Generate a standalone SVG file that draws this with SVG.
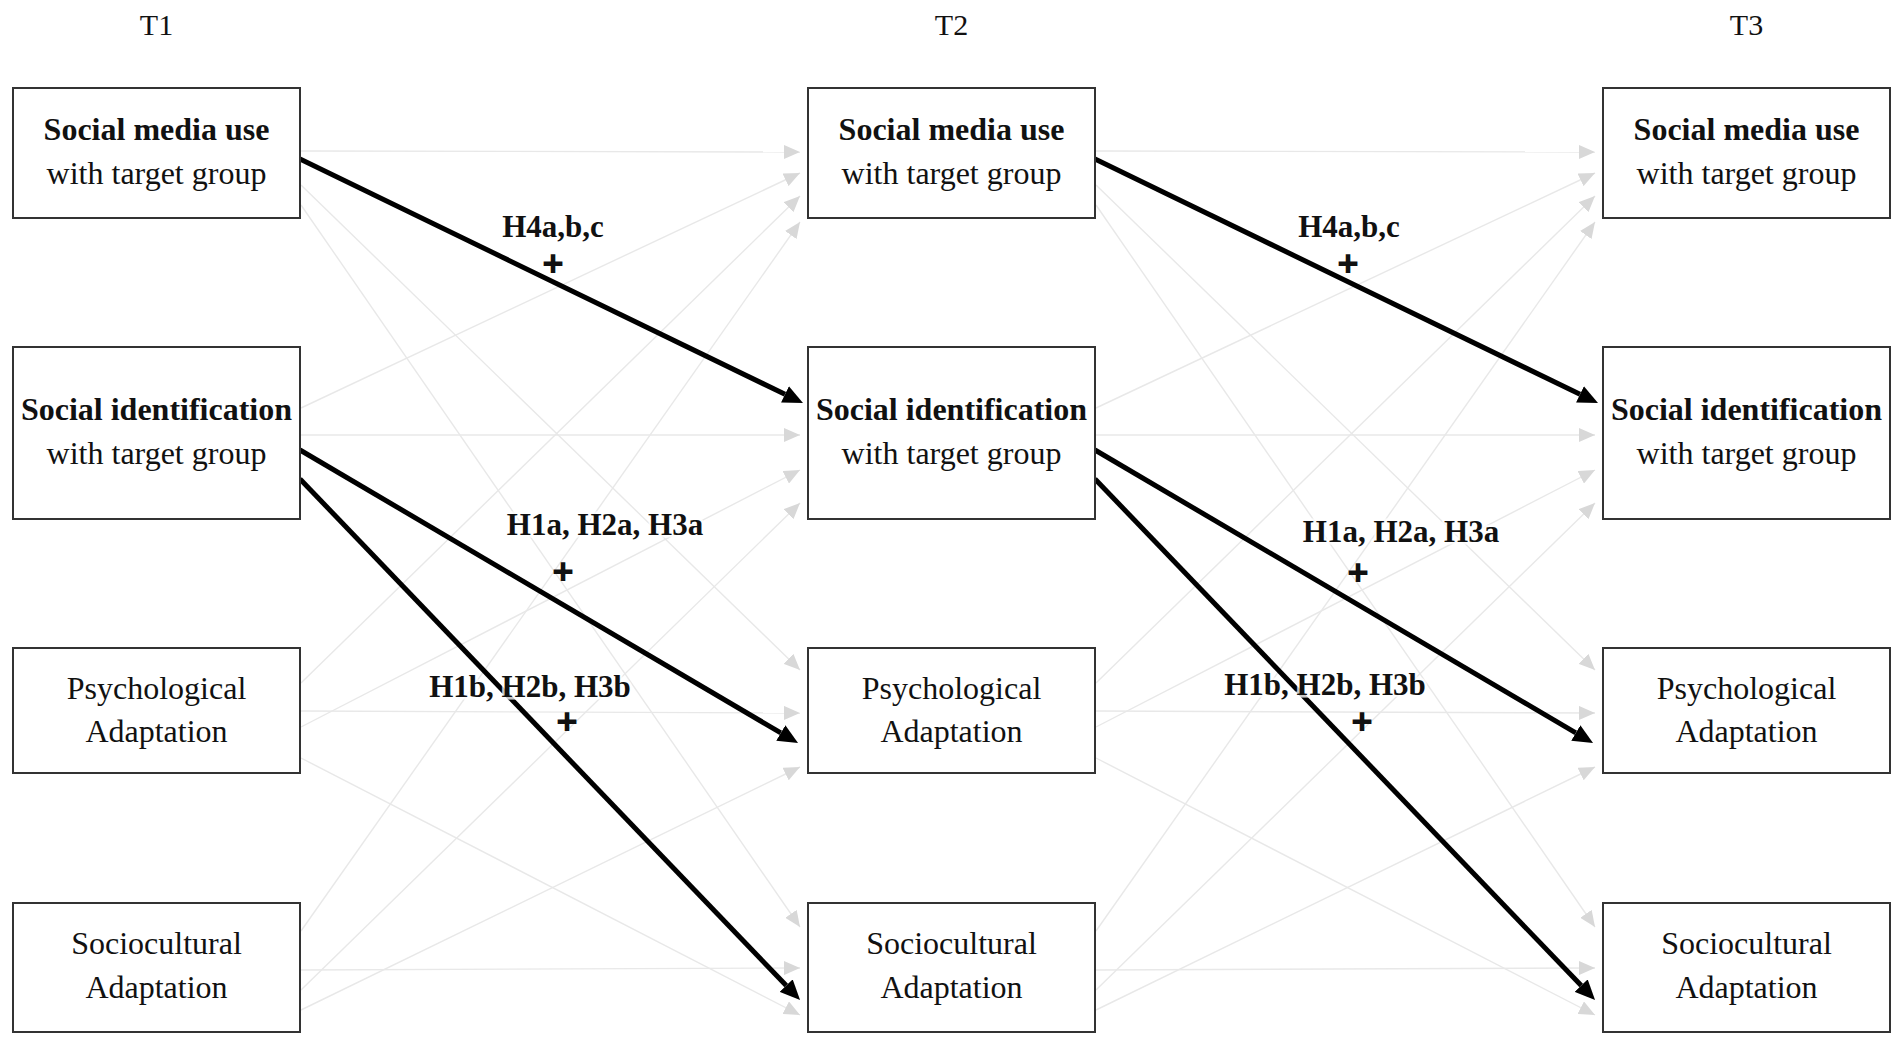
<svg xmlns="http://www.w3.org/2000/svg" width="1902" height="1040" viewBox="0 0 1902 1040">
<style>
  .box{fill:#fff;stroke:#333;stroke-width:2}
  .t{font-family:"Liberation Serif","Times New Roman",serif;font-size:32px;fill:#111;text-anchor:middle}
  .b{font-weight:bold}
  .hd{font-family:"Liberation Serif","Times New Roman",serif;font-size:30px;fill:#111;text-anchor:middle}
  .hl{font-family:"Liberation Serif","Times New Roman",serif;font-size:31px;font-weight:bold;fill:#111;text-anchor:middle;stroke:#fff;stroke-width:5;stroke-opacity:0.8;paint-order:stroke}
  .pl{font-family:"Liberation Serif","Times New Roman",serif;font-size:36px;font-weight:bold;fill:#111;stroke:#111;stroke-width:2;text-anchor:middle}
  .g{stroke:#e8e8e8;stroke-width:1.4;fill:none;marker-end:url(#ga)}
  .k{stroke:#000;stroke-width:5;fill:none;marker-end:url(#ka)}
</style>
<defs>
  <marker id="ga" markerUnits="userSpaceOnUse" viewBox="0 0 16 14" markerWidth="16" markerHeight="14" refX="16" refY="7" orient="auto">
    <path d="M0,0 L16,7 L0,14 z" fill="#d8d8d8"/>
  </marker>
  <marker id="ka" markerUnits="userSpaceOnUse" viewBox="0 0 20 18" markerWidth="20" markerHeight="18" refX="0" refY="9" orient="auto">
    <path d="M0,0 L20,9 L0,18 z" fill="#000"/>
  </marker>
</defs>
<rect width="1902" height="1040" fill="#fff"/>

<g id="headers">
  <text class="hd" x="156.5" y="35">T1</text>
  <text class="hd" x="951.5" y="35">T2</text>
  <text class="hd" x="1746.5" y="35">T3</text>
</g>

<g id="connectors">
  <!-- T1 -> T2 gray -->
  <line class="g" x1="301" y1="151" x2="800" y2="152"/>
  <line class="g" x1="301" y1="185" x2="800" y2="670"/>
  <line class="g" x1="301" y1="205" x2="800" y2="927"/>
  <line class="g" x1="301" y1="408" x2="800" y2="173"/>
  <line class="g" x1="301" y1="435" x2="800" y2="435"/>
  <line class="g" x1="301" y1="683" x2="800" y2="196"/>
  <line class="g" x1="301" y1="727" x2="800" y2="470"/>
  <line class="g" x1="301" y1="711" x2="800" y2="713"/>
  <line class="g" x1="301" y1="758" x2="800" y2="1015"/>
  <line class="g" x1="301" y1="931" x2="800" y2="222"/>
  <line class="g" x1="301" y1="990" x2="800" y2="503"/>
  <line class="g" x1="301" y1="1010" x2="800" y2="767"/>
  <line class="g" x1="301" y1="970" x2="800" y2="968"/>
  <!-- T2 -> T3 gray -->
  <line class="g" x1="1096" y1="151" x2="1595" y2="152"/>
  <line class="g" x1="1096" y1="185" x2="1595" y2="670"/>
  <line class="g" x1="1096" y1="205" x2="1595" y2="927"/>
  <line class="g" x1="1096" y1="408" x2="1595" y2="173"/>
  <line class="g" x1="1096" y1="435" x2="1595" y2="435"/>
  <line class="g" x1="1096" y1="683" x2="1595" y2="196"/>
  <line class="g" x1="1096" y1="727" x2="1595" y2="470"/>
  <line class="g" x1="1096" y1="711" x2="1595" y2="713"/>
  <line class="g" x1="1096" y1="758" x2="1595" y2="1015"/>
  <line class="g" x1="1096" y1="931" x2="1595" y2="222"/>
  <line class="g" x1="1096" y1="990" x2="1595" y2="503"/>
  <line class="g" x1="1096" y1="1010" x2="1595" y2="767"/>
  <line class="g" x1="1096" y1="970" x2="1595" y2="968"/>
  <!-- bold T1 -> T2 -->
  <line class="k" x1="300" y1="159" x2="785" y2="394.3"/>
  <line class="k" x1="300" y1="450" x2="780.8" y2="732.9"/>
  <line class="k" x1="300" y1="479" x2="786.2" y2="985.6"/>
  <!-- bold T2 -> T3 -->
  <line class="k" x1="1095" y1="159" x2="1580" y2="394.3"/>
  <line class="k" x1="1095" y1="450" x2="1575.8" y2="732.9"/>
  <line class="k" x1="1095" y1="479" x2="1581.2" y2="985.6"/>
</g>

<g id="labels">
  <text class="hl" x="553" y="237">H4a,b,c</text>
  <text class="pl" x="553" y="276">+</text>
  <text class="hl" x="605" y="535">H1a, H2a, H3a</text>
  <text class="pl" x="563" y="584">+</text>
  <text class="hl" x="530" y="697">H1b, H2b, H3b</text>
  <text class="pl" x="567" y="734">+</text>
  <text class="hl" x="1349" y="237">H4a,b,c</text>
  <text class="pl" x="1348" y="276">+</text>
  <text class="hl" x="1401" y="542">H1a, H2a, H3a</text>
  <text class="pl" x="1358" y="585">+</text>
  <text class="hl" x="1325" y="695">H1b, H2b, H3b</text>
  <text class="pl" x="1362" y="734">+</text>
</g>

<g id="t1-smu">
  <rect class="box" x="13" y="88" width="287" height="130"/>
  <text class="t b" x="156.5" y="140">Social media use</text>
  <text class="t" x="156.5" y="184">with target group</text>
</g>
<g id="t1-si">
  <rect class="box" x="13" y="347" width="287" height="172"/>
  <text class="t b" x="156.5" y="420">Social identification</text>
  <text class="t" x="156.5" y="464">with target group</text>
</g>
<g id="t1-psy">
  <rect class="box" x="13" y="648" width="287" height="125"/>
  <text class="t" x="156.5" y="699">Psychological</text>
  <text class="t" x="156.5" y="742">Adaptation</text>
</g>
<g id="t1-soc">
  <rect class="box" x="13" y="903" width="287" height="129"/>
  <text class="t" x="156.5" y="954">Sociocultural</text>
  <text class="t" x="156.5" y="998">Adaptation</text>
</g>

<g id="t2-smu">
  <rect class="box" x="808" y="88" width="287" height="130"/>
  <text class="t b" x="951.5" y="140">Social media use</text>
  <text class="t" x="951.5" y="184">with target group</text>
</g>
<g id="t2-si">
  <rect class="box" x="808" y="347" width="287" height="172"/>
  <text class="t b" x="951.5" y="420">Social identification</text>
  <text class="t" x="951.5" y="464">with target group</text>
</g>
<g id="t2-psy">
  <rect class="box" x="808" y="648" width="287" height="125"/>
  <text class="t" x="951.5" y="699">Psychological</text>
  <text class="t" x="951.5" y="742">Adaptation</text>
</g>
<g id="t2-soc">
  <rect class="box" x="808" y="903" width="287" height="129"/>
  <text class="t" x="951.5" y="954">Sociocultural</text>
  <text class="t" x="951.5" y="998">Adaptation</text>
</g>

<g id="t3-smu">
  <rect class="box" x="1603" y="88" width="287" height="130"/>
  <text class="t b" x="1746.5" y="140">Social media use</text>
  <text class="t" x="1746.5" y="184">with target group</text>
</g>
<g id="t3-si">
  <rect class="box" x="1603" y="347" width="287" height="172"/>
  <text class="t b" x="1746.5" y="420">Social identification</text>
  <text class="t" x="1746.5" y="464">with target group</text>
</g>
<g id="t3-psy">
  <rect class="box" x="1603" y="648" width="287" height="125"/>
  <text class="t" x="1746.5" y="699">Psychological</text>
  <text class="t" x="1746.5" y="742">Adaptation</text>
</g>
<g id="t3-soc">
  <rect class="box" x="1603" y="903" width="287" height="129"/>
  <text class="t" x="1746.5" y="954">Sociocultural</text>
  <text class="t" x="1746.5" y="998">Adaptation</text>
</g>
</svg>
